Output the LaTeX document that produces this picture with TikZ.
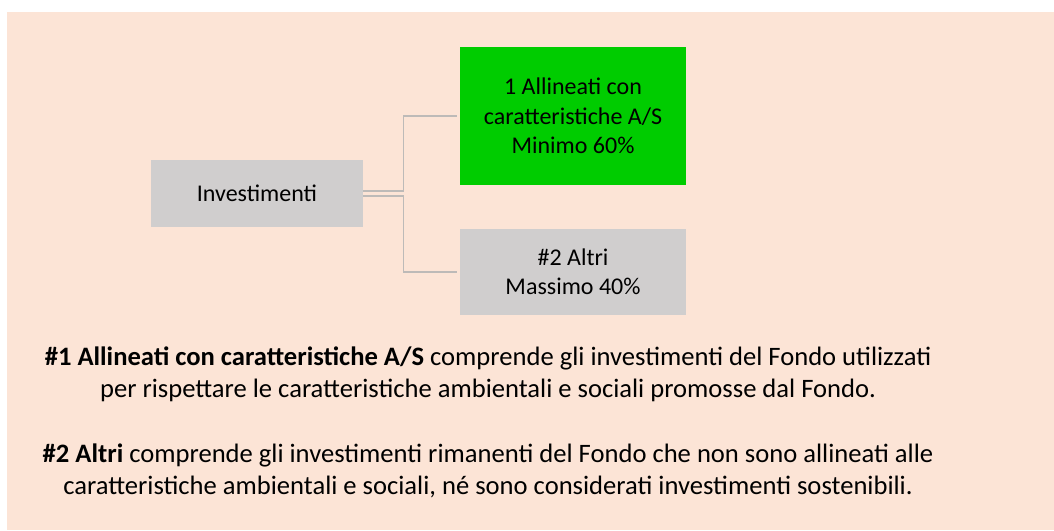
\documentclass[tikz,border=0pt]{standalone}
\usepackage{fontspec}
\setmainfont{Carlito}
\definecolor{peach}{HTML}{FCE4D6}
\definecolor{boxgray}{HTML}{D0CECE}
\definecolor{boxgreen}{HTML}{00CC00}
\definecolor{linegray}{HTML}{BDBAB8}
\begin{document}
\begin{tikzpicture}[x=1pt,y=-1pt,
  boxtext/.style={font=\fontsize{24}{29.5}\selectfont, align=center, inner sep=0pt, text=black},
  graybox/.style={boxtext, fill=boxgray},
  greenbox/.style={boxtext, fill=boxgreen},
  conn/.style={draw=linegray, line width=1.4pt},
  para/.style={font=\fontsize{26.6}{32}\selectfont, anchor=base, inner sep=0pt, text=black}]
\useasboundingbox (0,0) rectangle (1054,530);
\fill[white] (0,0) rectangle (1054,530);
\fill[peach] (7,12) rectangle (1054,530);
\node[graybox, minimum width=212pt, minimum height=67pt] (inv) at (257,193.5) {Investimenti};
\node[greenbox, minimum width=226pt, minimum height=138pt] (a1) at (573,116) {1 Allineati con\\caratteristiche A/S\\Minimo 60\%};
\node[graybox, minimum width=226pt, minimum height=86pt] (a2) at (573,272) {\#2 Altri\\Massimo 40\%};
\coordinate (e1) at ([xshift=-3pt]a1.west);
\coordinate (e2) at ([xshift=-3pt]a2.west);
\draw[conn] ([yshift=2.5pt]inv.east) -- ++(40,0) |- (e1);
\draw[conn] ([yshift=-2.5pt]inv.east) -- ++(40,0) |- (e2);
\node[para] (p1a) at (488,365) {\textbf{\#1 Allineati con caratteristiche A/S} comprende gli investimenti del Fondo utilizzati};
\node[para] (p1b) at (488,397) {per rispettare le caratteristiche ambientali e sociali promosse dal Fondo.};
\node[para] (p2a) at (488,462) {\textbf{\#2 Altri} comprende gli investimenti rimanenti del Fondo che non sono allineati alle};
\node[para] (p2b) at (488,494) {caratteristiche ambientali e sociali, né sono considerati investimenti sostenibili.};
\end{tikzpicture}
\end{document}
